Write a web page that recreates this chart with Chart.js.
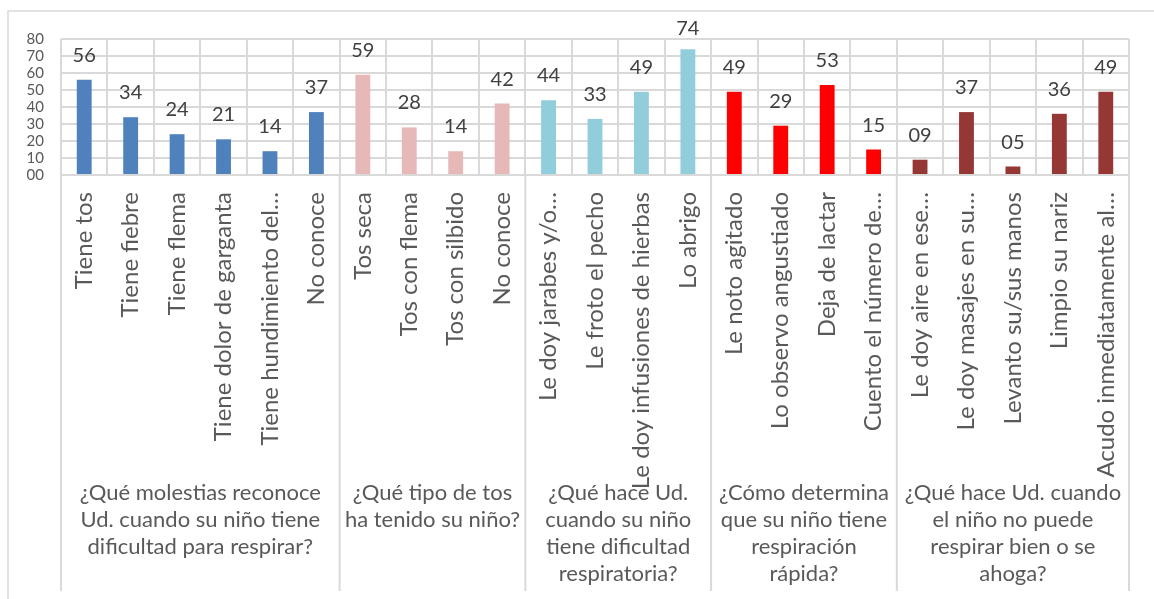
<!DOCTYPE html>
<html>
<head>
<meta charset="utf-8">
<script src="https://cdn.jsdelivr.net/npm/chart.js@4.4.1/dist/chart.umd.min.js"></script>
<style>
  html, body { margin: 0; padding: 0; background: #fff; }
  #wrap { width: 1154px; height: 599px; }
</style>
</head>
<body>
<div id="wrap"><canvas id="grafico" width="1154" height="599"></canvas></div>
<script>
// ---- datos ----
const categorias = [
    "Tiene tos", "Tiene fiebre", "Tiene flema", "Tiene dolor de garganta", "Tiene hundimiento del…", "No conoce",
    "Tos seca", "Tos con flema", "Tos con silbido", "No conoce",
    "Le doy jarabes y/o…", "Le froto el pecho", "Le doy infusiones de hierbas", "Lo abrigo",
    "Le noto agitado", "Lo observo angustiado", "Deja de lactar", "Cuento el número de…",
    "Le doy aire en ese…", "Le doy masajes en su…", "Levanto su/sus manos", "Limpio su nariz", "Acudo inmediatamente al…"
];
const valores = [56, 34, 24, 21, 14, 37, 59, 28, 14, 42, 44, 33, 49, 74, 49, 29, 53, 15, 9, 37, 5, 36, 49];

const preguntas = [
    ["¿Qué molestias reconoce", "Ud. cuando su niño tiene", "dificultad para respirar?"],
    ["¿Qué tipo de tos", "ha tenido su niño?"],
    ["¿Qué hace Ud.", "cuando su niño", "tiene dificultad", "respiratoria?"],
    ["¿Cómo determina", "que su niño tiene", "respiración", "rápida?"],
    ["¿Qué hace Ud. cuando", "el niño no puede", "respirar bien o se", "ahoga?"]
];
const tamGrupos = [6, 4, 4, 4, 5];
const coloresGrupo = ["#4F81BD", "#E6B9B8", "#92CDDC", "#FF0000", "#953735"];

const yTicks = [0, 10, 20, 30, 40, 50, 60, 70, 80];

// color de cada barra según su pregunta
const coloresBarra = [];
tamGrupos.forEach((n, g) => { for (let i = 0; i < n; i++) coloresBarra.push(coloresGrupo[g]); });

const GRIS = "#D9D9D9";
const TEXTO = "#595959";
const FUENTE = "Lato, 'Open Sans', sans-serif";

// ---- plugin: marco, separadores de grupo, preguntas y etiquetas de valor ----
const extrasPlugin = {
    id: "extras",
    beforeDraw(chart) {
        const ctx = chart.ctx;
        ctx.save();
        ctx.strokeStyle = GRIS;
        ctx.lineWidth = 1.5;
        ctx.strokeRect(8, 11, chart.width, chart.height);
        ctx.restore();
    },
    afterDraw(chart) {
        const ctx = chart.ctx;
        const x = chart.scales.x;
        const area = chart.chartArea;
        const fondo = chart.height - 8;
        const paso = x.getPixelForValue(1) - x.getPixelForValue(0);

        // lineas verticales entre preguntas, bajo el eje
        ctx.save();
        ctx.strokeStyle = GRIS;
        ctx.lineWidth = 2;
        const bordes = [x.getPixelForValue(0) - paso / 2];
        let fin = 0;
        tamGrupos.forEach(n => {
            fin += n;
            bordes.push(x.getPixelForValue(fin - 1) + paso / 2);
        });
        bordes.forEach(bx => {
            ctx.beginPath();
            ctx.moveTo(bx, area.bottom);
            ctx.lineTo(bx, fondo);
            ctx.stroke();
        });

        // texto de cada pregunta
        ctx.fillStyle = TEXTO;
        ctx.font = "22px " + FUENTE;
        ctx.textAlign = "center";
        ctx.textBaseline = "middle";
        preguntas.forEach((lineas, g) => {
            const cx = (bordes[g] + bordes[g + 1]) / 2;
            lineas.forEach((t, k) => ctx.fillText(t, cx, 493 + k * 27));
        });

        // valores encima de las barras
        ctx.fillStyle = "#404040";
        ctx.font = "20px " + FUENTE;
        ctx.textBaseline = "alphabetic";
        const meta = chart.getDatasetMeta(0);
        meta.data.forEach((bar, i) => {
            const y = Math.max(bar.y - 18, area.top - 4);
            ctx.fillText(String(valores[i]).padStart(2, "0"), bar.x, y);
        });
        ctx.restore();
    }
};

new Chart(document.getElementById("grafico"), {
    type: "bar",
    data: {
        labels: categorias,
        datasets: [{
            data: valores,
            backgroundColor: coloresBarra,
            borderWidth: 0,
            barPercentage: 0.32,
            categoryPercentage: 1
        }]
    },
    options: {
        responsive: false,
        animation: false,
        layout: { padding: { top: 39, right: 25, bottom: 8, left: 0 } },
        plugins: { legend: { display: false }, tooltip: { enabled: false } },
        scales: {
            x: {
                grid: { offset: true, color: GRIS, lineWidth: 2, drawTicks: false },
                border: { display: false },
                ticks: {
                    autoSkip: false,
                    maxRotation: 90,
                    minRotation: 90,
                    padding: 17,
                    color: TEXTO,
                    font: { family: FUENTE, size: 24 }
                },
                afterFit: s => { s.height = 599 - 175 - 8; }
            },
            y: {
                min: 0,
                max: 80,
                grid: { color: GRIS, lineWidth: 2, drawTicks: false },
                border: { display: false },
                afterBuildTicks: s => { s.ticks = yTicks.map(v => ({ value: v })); },
                ticks: {
                    autoSkip: false,
                    padding: 17,
                    color: TEXTO,
                    font: { family: FUENTE, size: 15 },
                    callback: v => String(v).padStart(2, "0")
                },
                afterFit: s => { s.width = 61; }
            }
        }
    },
    plugins: [extrasPlugin]
});
</script>
</body>
</html>
